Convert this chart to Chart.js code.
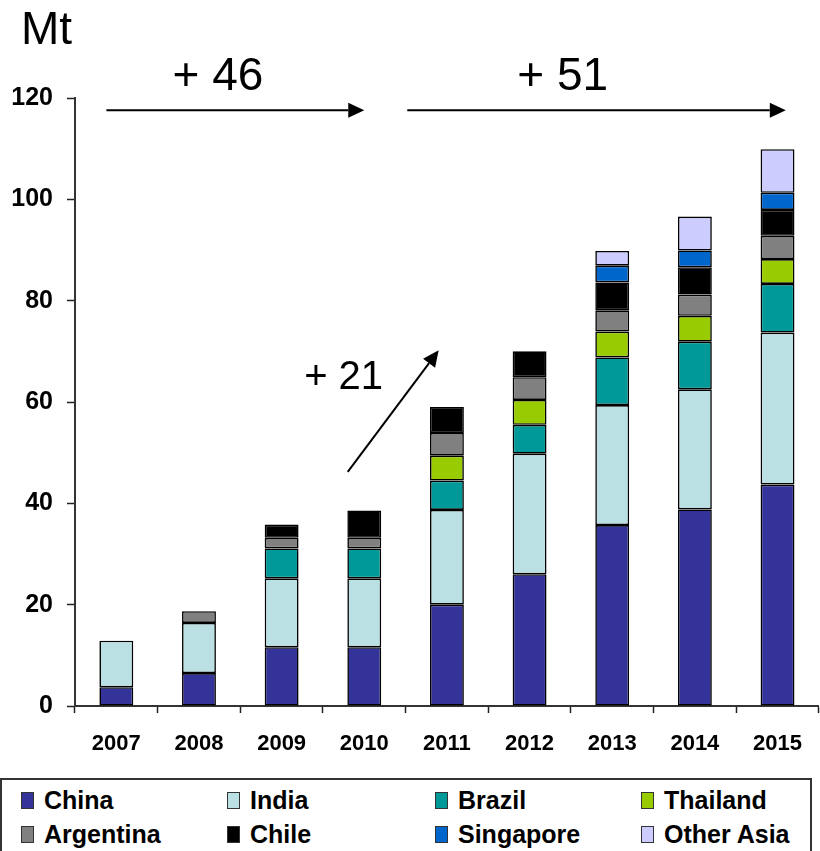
<!DOCTYPE html>
<html>
<head>
<meta charset="utf-8">
<script src="https://cdn.jsdelivr.net/npm/chart.js@4/dist/chart.umd.min.js"></script>
<style>
  body { margin: 0; background: #fff; }
  #wrap { position: relative; width: 820px; height: 851px; overflow: hidden; }
  #chart { position: absolute; left: 0; top: 0; }
  #legend {
    position: absolute; left: 0; top: 778px; width: 812px; height: 90px;
    border: 2px solid #333; box-sizing: border-box;
    font-family: 'Liberation Sans', Arial, sans-serif; font-weight: bold; font-size: 25px; color: #000;
  }
  .item { position: absolute; display: flex; align-items: center; height: 30px; }
  .item span.box { width: 11px; height: 15px; border: 1.5px solid #333; margin-right: 10px; }
</style>
</head>
<body>
<div id="wrap">
  <canvas id="chart" width="820" height="775"></canvas>
  <div id="legend"></div>
</div>
<script>
// Production by region, Mt
const years = ['2007', '2008', '2009', '2010', '2011', '2012', '2013', '2014', '2015'];
const china     = [3.7, 6.5, 11.6, 11.6, 20.0, 26.0, 35.7, 38.8, 43.7];
const india     = [9.2, 9.9, 13.6, 13.6, 18.7, 23.8, 23.7, 23.7, 30.0];
const brazil    = [null, null, 5.9, 5.9, 5.8, 5.7, 9.4, 9.4, 9.6];
const thailand  = [null, null, null, null, 4.9, 4.9, 5.1, 5.1, 4.9];
const argentina = [null, 2.3, 2.1, 2.1, 4.5, 4.5, 4.2, 4.2, 4.6];
const chile     = [null, null, 2.6, 5.4, 5.1, 5.1, 5.5, 5.4, 5.1];
const singapore = [null, null, null, null, null, null, 3.3, 3.3, 3.4];
const otherAsia = [null, null, null, null, null, null, 2.9, 6.7, 8.6];
const yTicks = [0, 20, 40, 60, 80, 100, 120];

const series = [
  { label: 'China', data: china, color: '#333399' },
  { label: 'India', data: india, color: '#BBE0E3' },
  { label: 'Brazil', data: brazil, color: '#009999' },
  { label: 'Thailand', data: thailand, color: '#99CC00' },
  { label: 'Argentina', data: argentina, color: '#808080' },
  { label: 'Chile', data: chile, color: '#000000' },
  { label: 'Singapore', data: singapore, color: '#0066CC' },
  { label: 'Other Asia', data: otherAsia, color: '#CCCCFF' }
];

// growth callouts, placed in axis units (category index, Mt)
const callouts = [
  { text: '+ 46', at: [1.23, 121.6], size: 46, from: [-0.12, 117.6], to: [3.0, 117.6] },
  { text: '+ 51', at: [5.40, 121.6], size: 46, from: [3.52, 117.6], to: [8.1, 117.6] },
  { text: '+ 21', at: [2.75, 62.6], size: 40, from: [2.80, 46.2], to: [3.90, 70.2] }
];

const sans = "'Liberation Sans', Arial, sans-serif";

const calloutPlugin = {
  id: 'callouts',
  afterDraw(chart) {
    const { ctx, scales: { x, y } } = chart;
    ctx.save();
    ctx.fillStyle = '#000';
    ctx.strokeStyle = '#000';
    ctx.font = '46px ' + sans;
    ctx.textAlign = 'left';
    ctx.textBaseline = 'alphabetic';
    ctx.fillText('Mt', 21, 44);
    callouts.forEach(c => {
      ctx.font = c.size + 'px ' + sans;
      ctx.textAlign = 'center';
      ctx.fillText(c.text, x.getPixelForValue(c.at[0]), y.getPixelForValue(c.at[1]));
      const x1 = x.getPixelForValue(c.from[0]), y1 = y.getPixelForValue(c.from[1]);
      const x2 = x.getPixelForValue(c.to[0]), y2 = y.getPixelForValue(c.to[1]);
      const ang = Math.atan2(y2 - y1, x2 - x1);
      const head = 16, half = 7.5;
      const bx = x2 - head * Math.cos(ang), by = y2 - head * Math.sin(ang);
      ctx.lineWidth = 2;
      ctx.beginPath();
      ctx.moveTo(x1, y1);
      ctx.lineTo(bx, by);
      ctx.stroke();
      ctx.beginPath();
      ctx.moveTo(x2, y2);
      ctx.lineTo(bx + half * Math.sin(ang), by - half * Math.cos(ang));
      ctx.lineTo(bx - half * Math.sin(ang), by + half * Math.cos(ang));
      ctx.closePath();
      ctx.fill();
    });
    ctx.restore();
  }
};

new Chart(document.getElementById('chart'), {
  type: 'bar',
  data: {
    labels: years,
    datasets: series.map(s => ({
      label: s.label,
      data: s.data,
      backgroundColor: s.color,
      borderColor: '#000',
      borderWidth: 1.6,
      borderSkipped: false,
      barPercentage: 0.41,
      categoryPercentage: 1
    }))
  },
  options: {
    responsive: false,
    animation: false,
    layout: { padding: { top: 98, left: 0, right: 0, bottom: 0 } },
    plugins: { legend: { display: false }, tooltip: { enabled: false } },
    scales: {
      x: {
        stacked: true,
        grid: { display: true, drawOnChartArea: false, tickLength: 7, tickColor: '#222', tickWidth: 1.5, offset: true },
        border: { color: '#333', width: 2 },
        ticks: { color: '#000', padding: 18, font: { family: sans, size: 22, weight: 'bold' } },
        afterFit(scale) { scale.height = 69; }
      },
      y: {
        stacked: true,
        min: 0,
        max: 120,
        afterBuildTicks(scale) { scale.ticks = yTicks.map(v => ({ value: v })); },
        grid: { display: true, drawOnChartArea: false, tickLength: 8, tickColor: '#222', tickWidth: 1.5 },
        border: { color: '#333', width: 2 },
        ticks: { color: '#000', padding: 14, font: { family: sans, size: 25, weight: 'bold' } },
        afterFit(scale) { scale.width = 75; }
      }
    }
  },
  plugins: [calloutPlugin]
});

// legend: four columns, two rows
const legendCols = [19, 225, 433, 639];
const legend = document.getElementById('legend');
series.forEach((s, i) => {
  const el = document.createElement('div');
  el.className = 'item';
  el.style.left = legendCols[i % 4] + 'px';
  el.style.top = (i < 4 ? 5 : 39) + 'px';
  el.innerHTML = '<span class="box" style="background:' + s.color + '"></span>' + s.label;
  legend.appendChild(el);
});
</script>
</body>
</html>
